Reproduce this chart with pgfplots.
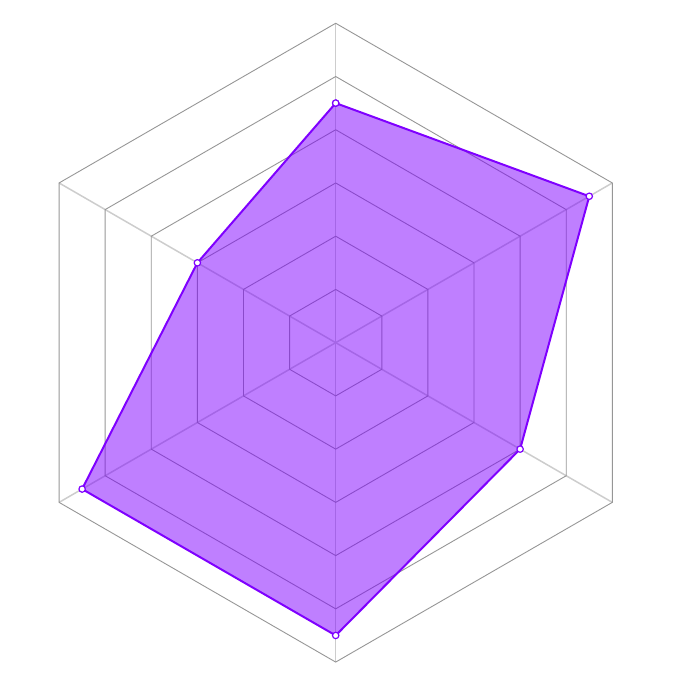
\documentclass[border=0pt]{standalone}
\usepackage{pgfplots}
\pgfplotsset{compat=1.18}
\definecolor{violetline}{RGB}{127,0,255}
\definecolor{ringgray}{RGB}{150,150,150}
\definecolor{spokegray}{RGB}{205,205,205}
\begin{document}
\begin{tikzpicture}
\begin{axis}[
  x=26.6167pt, y=26.6167pt,
  xmin=-6.306, xmax=6.618,
  ymin=-6.487, ymax=6.437,
  hide axis, clip=false,
  data cs=polar,
]
% spokes
\pgfplotsinvokeforeach{90,30,-30,-90,-150,150}{
  \addplot[spokegray, line width=0.75pt, forget plot] coordinates {(#1,0) (#1,6)};
}
% hexagonal rings
\pgfplotsinvokeforeach{1,2,3,4,5,6}{
  \addplot[ringgray, line width=0.45pt, forget plot] coordinates {
    (90,#1) (30,#1) (-30,#1) (-90,#1) (-150,#1) (150,#1) (90,#1)};
}
% data
\addplot[violetline, line width=1pt, fill=violetline, fill opacity=0.5, draw opacity=1,
  mark=*, mark size=1.6pt, mark options={fill=white, draw=violetline, line width=0.6pt, fill opacity=1}]
  coordinates {(90,4.5) (30,5.5) (-30,4) (-90,5.5) (-150,5.5) (150,3) (90,4.5)};
\path (rel axis cs:0,0) rectangle (rel axis cs:1,1);
\end{axis}
\end{tikzpicture}
\end{document}
